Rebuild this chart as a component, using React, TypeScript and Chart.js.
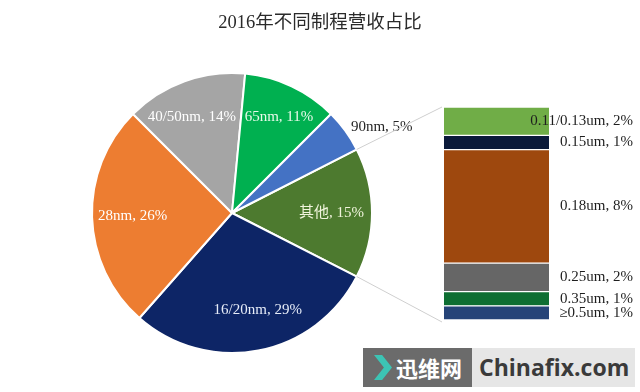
import React, { useEffect, useRef } from "react";
import { Chart, registerables } from "chart.js";

Chart.register(...registerables);

const TITLE = "2016年不同制程营收占比";

const pieLabels = ["其他", "16/20nm", "28nm", "40/50nm", "65nm", "90nm"];
const pieValues = [15, 29, 26, 14, 11, 5];

const barLabels = ["≥0.5um", "0.35um", "0.25um", "0.18um", "0.15um", "0.11/0.13um"];
const barValues = [1, 1, 2, 8, 1, 2];

// styles (kept separate from data)
const pieColors = ["#4D7A2F", "#0D2566", "#ED7D31", "#A5A5A5", "#00B050", "#4472C4"];
const pieLabelColors = ["#F0F4DC", "#E6ECF8", "#FFFFFF", "#FFFFFF", "#E8FAEA", "#262626"];
const pieLabelRadius = [0.71, 0.72, 0.71, 0.74, 0.76, 1.05];
const pieLabelAngleNudge = [0, -4, 0, -3, 1, 0];
const pieLabelOutside = [false, false, false, false, false, true];
const barColors = ["#264478", "#0E6E32", "#666666", "#9E480E", "#0B1A3A", "#70AD47"];

const SERIF = '"Liberation Serif", "Times New Roman", "Noto Sans CJK SC", serif';

export default function App() {
  const pieRef = useRef<HTMLCanvasElement | null>(null);
  const barRef = useRef<HTMLCanvasElement | null>(null);

  useEffect(() => {
    if (!pieRef.current || !barRef.current) return;

    const titlePlugin = {
      id: "titleText",
      afterDraw(chart: any) {
        const ctx = chart.ctx;
        ctx.save();
        ctx.font = `18.5px ${SERIF}`;
        ctx.fillStyle = "#2a2a2a";
        ctx.textAlign = "center";
        ctx.textBaseline = "middle";
        ctx.fillText(TITLE, chart.width / 2, 23);
        ctx.restore();
      },
    };

    const pieLabelPlugin = {
      id: "pieLabels",
      afterDatasetsDraw(chart: any) {
        const ctx = chart.ctx;
        const meta = chart.getDatasetMeta(0);
        ctx.save();
        ctx.font = `15px ${SERIF}`;
        ctx.textBaseline = "middle";
        meta.data.forEach((arc: any, i: number) => {
          const mid = (arc.startAngle + arc.endAngle) / 2 + (pieLabelAngleNudge[i] * Math.PI) / 180;
          const r = arc.outerRadius * pieLabelRadius[i];
          const x = arc.x + Math.cos(mid) * r;
          const y = arc.y + Math.sin(mid) * r;
          ctx.fillStyle = pieLabelColors[i];
          ctx.textAlign = pieLabelOutside[i] ? "left" : "center";
          ctx.fillText(`${pieLabels[i]}, ${pieValues[i]}%`, x, y);
        });
        ctx.restore();
      },
    };

    const pie = new Chart(pieRef.current, {
      type: "pie",
      data: {
        labels: pieLabels,
        datasets: [
          {
            data: pieValues,
            backgroundColor: pieColors,
            borderColor: "#ffffff",
            borderWidth: 2,
          },
        ],
      },
      options: {
        responsive: false,
        animation: false,
        rotation: 63,
        layout: { padding: { top: 72, bottom: 38, left: 91, right: 267 } },
        plugins: {
          legend: { display: false },
          tooltip: { enabled: false },
          title: { display: false },
        },
      },
      plugins: [titlePlugin, pieLabelPlugin],
    } as any);

    const connectorPlugin = {
      id: "connectors",
      beforeDatasetsDraw(chart: any) {
        const arc: any = pie.getDatasetMeta(0).data[0];
        if (!arc) return;
        const area = chart.chartArea;
        const ctx = chart.ctx;
        const r = arc.outerRadius;
        ctx.save();
        ctx.strokeStyle = "#CFCFCF";
        ctx.lineWidth = 1;
        ctx.beginPath();
        ctx.moveTo(arc.x + Math.cos(arc.startAngle) * r, arc.y + Math.sin(arc.startAngle) * r);
        ctx.lineTo(area.left - 2, area.top);
        ctx.moveTo(arc.x + Math.cos(arc.endAngle) * r, arc.y + Math.sin(arc.endAngle) * r);
        ctx.lineTo(area.left - 2, area.bottom + 2);
        ctx.stroke();
        ctx.restore();
      },
    };

    const barLabelPlugin = {
      id: "barLabels",
      afterDatasetsDraw(chart: any) {
        const ctx = chart.ctx;
        ctx.save();
        ctx.font = `15px ${SERIF}`;
        ctx.fillStyle = "#1e1e1e";
        ctx.textAlign = "right";
        ctx.textBaseline = "middle";
        chart.data.datasets.forEach((ds: any, i: number) => {
          const el: any = chart.getDatasetMeta(i).data[0];
          if (!el) return;
          const x = el.x + el.width / 2 + 84;
          const y = (el.y + el.base) / 2;
          ctx.fillText(`${barLabels[i]}, ${barValues[i]}%`, x, y);
        });
        ctx.restore();
      },
    };

    const bar = new Chart(barRef.current, {
      type: "bar",
      data: {
        labels: [""],
        datasets: barLabels.map((l, i) => ({
          label: l,
          data: [barValues[i]],
          backgroundColor: barColors[i],
          borderColor: "#ffffff",
          borderWidth: { top: 1, bottom: 1, left: 0, right: 0 },
          borderSkipped: false,
          barPercentage: 1,
          categoryPercentage: 1,
        })),
      },
      options: {
        responsive: false,
        animation: false,
        layout: { padding: { top: 107, bottom: 72, left: 444, right: 91 } },
        scales: {
          x: { display: false, stacked: true },
          y: { display: false, stacked: true, min: 0, max: 15 },
        },
        plugins: {
          legend: { display: false },
          tooltip: { enabled: false },
          title: { display: false },
        },
      },
      plugins: [connectorPlugin, barLabelPlugin],
    } as any);

    return () => {
      bar.destroy();
      pie.destroy();
    };
  }, []);

  return (
    <div
      style={{
        position: "absolute",
        left: 0,
        top: 0,
        width: 640,
        height: 392,
        background: "#ffffff",
        overflow: "hidden",
      }}
    >
      <canvas
        ref={pieRef}
        width={640}
        height={392}
        style={{ position: "absolute", left: 0, top: 0, width: 640, height: 392 }}
      />
      <canvas
        ref={barRef}
        width={640}
        height={392}
        style={{ position: "absolute", left: 0, top: 0, width: 640, height: 392 }}
      />
      <div
        style={{
          position: "absolute",
          left: 363,
          top: 348,
          width: 109,
          height: 39,
          background: "#6b6b6b",
        }}
      >
        <div
          style={{
            position: "absolute",
            left: 11,
            top: 7,
            width: 18,
            height: 25,
            background: "#3CC4B4",
            clipPath: "polygon(0 0, 45% 0, 100% 50%, 45% 100%, 0 100%, 55% 50%)",
          }}
        />
        <div
          style={{
            position: "absolute",
            left: 33,
            top: 0,
            height: 39,
            lineHeight: "39px",
            color: "#ffffff",
            fontFamily: '"Noto Sans CJK SC", sans-serif',
            fontWeight: 700,
            fontSize: 22,
            whiteSpace: "nowrap",
          }}
        >
          迅维网
        </div>
      </div>
      <div
        style={{
          position: "absolute",
          left: 472,
          top: 348,
          width: 163,
          height: 39,
          background: "#e6e6e6",
        }}
      >
        <div
          style={{
            position: "absolute",
            left: 7,
            top: 0,
            height: 39,
            lineHeight: "39px",
            color: "#3a3a3a",
            fontFamily: '"Open Sans", "Noto Sans", sans-serif',
            fontWeight: 700,
            fontSize: 23,
            whiteSpace: "nowrap",
          }}
        >
          Chinafix.com
        </div>
      </div>
    </div>
  );
}
